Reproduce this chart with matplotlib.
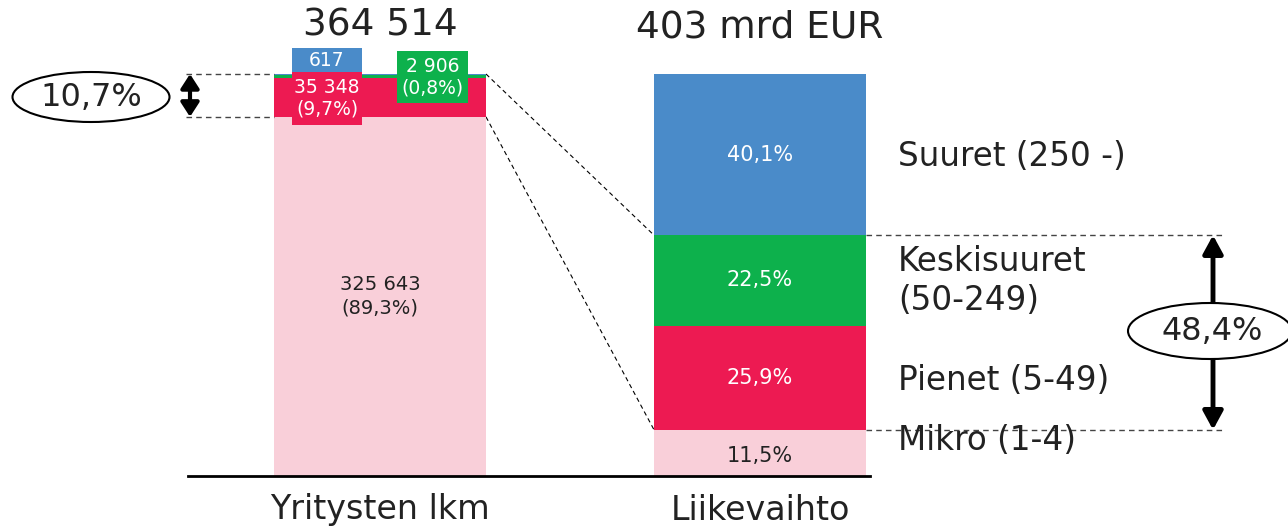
import matplotlib
matplotlib.use("Agg")
import matplotlib.pyplot as plt
from matplotlib.patches import Ellipse, Rectangle

plt.rcParams['font.family'] = ['DejaVu Sans']

# ---------------- data ----------------
categories = ["Yritysten lkm", "Liikevaihto"]
size_classes = ["Mikro (1-4)", "Pienet (5-49)", "Keskisuuret\n(50-249)", "Suuret (250 -)"]
company_counts = [325643, 35348, 2906, 617]
turnover_pct = [11.5, 25.9, 22.5, 40.1]
count_total_label = "364 514"
turnover_total_label = "403 mrd EUR"
small_share_label = "10,7%"     # pienet + keskisuuret + suuret, yritysten lkm
sme_turnover_label = "48,4%"    # pienet + keskisuuret, liikevaihto
colors = ["#F9CFD9", "#ED1A52", "#0DB14C", "#4A8BC9"]

total = sum(company_counts)
count_pct = [c / total * 100 for c in company_counts]

def fmt_int(v):
    return f"{v:,}".replace(",", " ")

def fmt_pct(v):
    return f"{v:.1f}".replace(".", ",") + "%"

# ---------------- figure ----------------
W, H = 1288, 532
fig = plt.figure(figsize=(W / 100, H / 100), dpi=100)
ax = fig.add_axes([0, 0, 1, 1])
ax.axis("off")
# px -> data mapping: bar centres at px 380 and 760, y 0 at px 476, y 100 at px 74
sx = 380.0
sy = 402 / 100.0
ax.set_xlim((0 - 380) / sx, (W - 380) / sx)
ax.set_ylim((476 - H) / sy, 476 / sy)

def px(x):
    return (x - 380) / sx

def py(y):
    return (476 - y) / sy

TXT = "#222222"
bar_w = 212 / sx
xpos = [0, 1]

# stacked bars
bottom_l = 0
bottom_r = 0
right_tops = []
for i in range(4):
    ax.bar(xpos[0], count_pct[i], bottom=bottom_l, width=bar_w, color=colors[i], zorder=2)
    ax.bar(xpos[1], turnover_pct[i], bottom=bottom_r, width=bar_w, color=colors[i], zorder=2)
    bottom_l += count_pct[i]
    bottom_r += turnover_pct[i]
    right_tops.append(bottom_r)

# baseline
ax.plot([px(188), px(870)], [0, 0], color="black", lw=2, zorder=3)

# titles & category labels
ax.text(0, py(26), count_total_label, ha="center", va="center", fontsize=27, color=TXT)
ax.text(1, py(28), turnover_total_label, ha="center", va="center", fontsize=27, color=TXT)
for x, c in zip(xpos, categories):
    ax.text(x, py(510), c, ha="center", va="center", fontsize=24, color=TXT)

# left bar labels
ax.text(0, count_pct[0] / 2, f"{fmt_int(company_counts[0])}\n({fmt_pct(count_pct[0])})",
        ha="center", va="center", fontsize=14, color=TXT, linespacing=1.3, zorder=4)

def box_label(x0, x1, y0, y1, color, text):
    ax.add_patch(Rectangle((px(x0), py(y1)), (x1 - x0) / sx, (y1 - y0) / sy,
                           fc=color, ec="none", zorder=5))
    ax.text(px((x0 + x1) / 2), py((y0 + y1) / 2), text, ha="center", va="center",
            fontsize=13.5, color="white", zorder=6, linespacing=1.15)

box_label(292, 362, 48, 72, colors[3], fmt_int(company_counts[3]))
box_label(292, 362, 72, 125, colors[1], f"{fmt_int(company_counts[1])}\n({fmt_pct(count_pct[1])})")
box_label(397, 468, 51, 103, colors[2], f"{fmt_int(company_counts[2])}\n({fmt_pct(count_pct[2])})")

# right bar labels
bot = 0
for i, v in enumerate(turnover_pct):
    ax.text(1, bot + v / 2 + (-0.8 if i == 0 else 0), fmt_pct(v), ha="center", va="center",
            fontsize=15, color=TXT if i == 0 else "white", zorder=4)
    bot += v

# size class labels
label_y = [py(440), py(380), py(281), py(157)]
for yy, lab in zip(label_y, size_classes):
    ax.text(px(898), yy, lab, ha="left", va="center", fontsize=23.5, color=TXT,
            linespacing=1.25)

# connector dashed lines
ax.plot([bar_w / 2, 1 - bar_w / 2], [100, right_tops[2]], color="black", lw=0.8,
        ls=(0, (4, 3)), zorder=1)
ax.plot([bar_w / 2, 1 - bar_w / 2], [count_pct[0], right_tops[0]], color="black", lw=0.8,
        ls=(0, (4, 3)), zorder=1)

# left bracket
ax.plot([px(186), -bar_w / 2], [100, 100], color="#444444", lw=1, ls=(0, (4, 3)))
ax.plot([px(186), -bar_w / 2], [count_pct[0], count_pct[0]], color="#444444", lw=1, ls=(0, (4, 3)))
ax.annotate("", xy=(px(190), 100), xytext=(px(190), count_pct[0]),
            arrowprops=dict(arrowstyle="<|-|>,head_length=0.85,head_width=0.55", color="black", lw=3,
                            shrinkA=0, shrinkB=0))
ax.add_patch(Ellipse((px(91), py(97)), 157 / sx, 50 / sy, fc="white", ec="black", lw=1.5, zorder=5))
ax.text(px(91), py(97), small_share_label, ha="center", va="center", fontsize=23, color=TXT, zorder=6)

# right bracket
ax.plot([1 + bar_w / 2, px(1222)], [right_tops[2], right_tops[2]], color="#444444", lw=1, ls=(0, (4, 3)))
ax.plot([1 + bar_w / 2, px(1222)], [right_tops[0], right_tops[0]], color="#444444", lw=1, ls=(0, (4, 3)))
ax.annotate("", xy=(px(1213), right_tops[2]), xytext=(px(1213), right_tops[0]),
            arrowprops=dict(arrowstyle="<|-|>,head_length=1.1,head_width=0.6", color="black", lw=3.5,
                            shrinkA=0, shrinkB=0))
ax.add_patch(Ellipse((px(1210), py(331)), 164 / sx, 56 / sy, fc="white", ec="black", lw=1.5, zorder=5))
ax.text(px(1212), py(331), sme_turnover_label, ha="center", va="center", fontsize=23, color=TXT, zorder=6)

fig.savefig("out.png", dpi=100)
